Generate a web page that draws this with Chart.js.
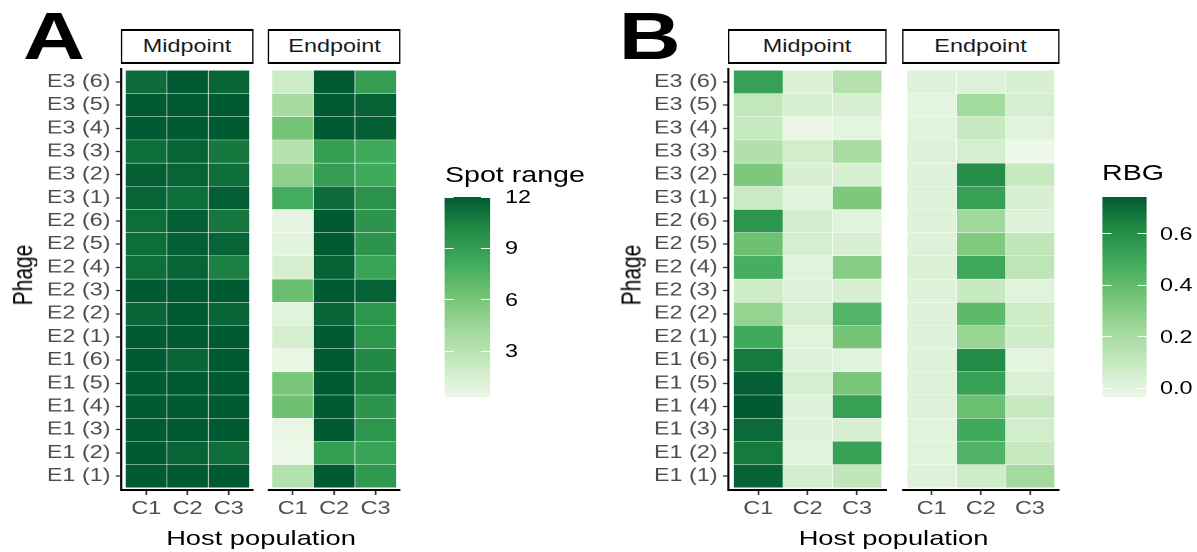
<!DOCTYPE html>
<html>
<head>
<meta charset="utf-8">
<script src="https://cdn.jsdelivr.net/npm/chart.js@4.4.1/dist/chart.umd.min.js"></script>
<style>
  html, body { margin: 0; padding: 0; background: #fff; }
  body { width: 1197px; height: 552px; overflow: hidden; }
  /* the figure is a bit wider than tall glyphs suggest, so stretch the whole stage */
  #stage { position: relative; width: 920.77px; height: 552px; transform: scaleX(1.3); transform-origin: 0 0;
           font-family: "Liberation Sans", Arial, Helvetica, sans-serif; }
  #stage canvas { position: absolute; }
  .txt { position: absolute; white-space: nowrap; line-height: 1; }
  .strip { position: absolute; box-sizing: border-box; border: 2px solid #000; border-left-width: 1.5px; border-right-width: 1.5px;
           display: flex; align-items: center; justify-content: center; font-size: 18px; color: #1a1a1a; background: #fff; }
  .cbar { position: absolute; background: linear-gradient(to top, #edf8e9, #c7e9c0, #a1d99b, #74c476, #41ab5d, #238b45, #005a32); }
  .ctick { position: absolute; height: 1px; background: #fff; }
</style>
</head>
<body>
<div id="stage"></div>
<script>
const phages = ['E1 (1)', 'E1 (2)', 'E1 (3)', 'E1 (4)', 'E1 (5)', 'E1 (6)',
                'E2 (1)', 'E2 (2)', 'E2 (3)', 'E2 (4)', 'E2 (5)', 'E2 (6)',
                'E3 (1)', 'E3 (2)', 'E3 (3)', 'E3 (4)', 'E3 (5)', 'E3 (6)'];
const hosts = ['C1', 'C2', 'C3'];

// Panel A - spot range (same phage order as above)
const spotMidC1 = [12, 12, 12, 12, 12, 12, 12, 11.5, 12, 11.2, 11.2, 11.2, 11.6, 11.8, 11.2, 12, 12, 11.3];
const spotMidC2 = [12, 11.6, 12, 12, 12, 11.5, 12, 12, 12, 11.6, 11.8, 11.8, 11.2, 11.6, 11.6, 12, 12, 12];
const spotMidC3 = [12, 11.2, 12, 12, 12, 12, 12, 11.5, 12, 10.5, 11.6, 10.8, 11.8, 11.2, 10.8, 12, 12, 11.5];
const spotEndC1 = [3.3, 0.33, 0.6, 6.4, 6.0, 0.5, 1.6, 1.0, 6.6, 1.5, 0.9, 0.7, 8.0, 5.0, 3.2, 6.2, 4.0, 2.0];
const spotEndC2 = [12, 8.9, 12, 12, 12, 12, 12, 11.5, 12, 11.7, 12, 12, 11.3, 8.9, 8.9, 12, 12, 12];
const spotEndC3 = [9.2, 8.6, 9.4, 9.5, 10.5, 10.1, 9.4, 9.4, 11.7, 8.6, 9.5, 9.5, 9.6, 8.2, 8.2, 11.8, 11.7, 8.9];

// Panel B - RBG
const rbgMidC1 = [0.72, 0.66, 0.7, 0.743, 0.73, 0.66, 0.49, 0.26, 0.07, 0.47, 0.37, 0.57, 0.09, 0.33, 0.17, 0.1, 0.11, 0.53];
const rbgMidC2 = [0.06, 0.01, 0.02, 0.02, 0.05, 0.02, 0.01, 0.05, 0.02, 0.01, 0.05, 0.06, 0.01, 0.04, 0.06, -0.02, 0.04, 0.03];
const rbgMidC3 = [0.12, 0.53, 0.04, 0.53, 0.34, 0.01, 0.35, 0.44, 0.04, 0.3, 0.04, 0.01, 0.33, 0.04, 0.2, 0.0, 0.04, 0.16];
const rbgEndC1 = [0.02, 0.01, 0.01, 0.02, 0.02, 0.02, 0.02, 0.02, 0.02, 0.03, 0.02, 0.02, 0.02, 0.02, 0.02, 0.01, 0.0, 0.02];
const rbgEndC2 = [0.07, 0.45, 0.49, 0.38, 0.53, 0.61, 0.25, 0.41, 0.1, 0.5, 0.32, 0.23, 0.53, 0.6, 0.05, 0.1, 0.22, 0.02];
const rbgEndC3 = [0.22, 0.1, 0.06, 0.1, 0.03, 0.0, 0.07, 0.07, 0.01, 0.13, 0.12, 0.02, 0.04, 0.1, -0.033, 0.01, 0.05, 0.04];

const spotTicks = [3, 6, 9, 12];
const rbgTicks = [0, 0.2, 0.4, 0.6];

const greens = ['#edf8e9', '#c7e9c0', '#a1d99b', '#74c476', '#41ab5d', '#238b45', '#005a32'];
const SX = 1.3;
const PLOT_TOP = 68, PLOT_BOTTOM = 490;
const FONT = '"Liberation Sans", Arial, Helvetica, sans-serif';
const stage = document.getElementById('stage');

const spotAll = [].concat(spotMidC1, spotMidC2, spotMidC3, spotEndC1, spotEndC2, spotEndC3);
const rbgAll = [].concat(rbgMidC1, rbgMidC2, rbgMidC3, rbgEndC1, rbgEndC2, rbgEndC3);
const spotRange = [Math.min(...spotAll), Math.max(...spotAll)];
const rbgRange = [Math.min(...rbgAll), Math.max(...rbgAll)];

function hex(c) { return [1, 3, 5].map(i => parseInt(c.substr(i, 2), 16)); }

function fillColor(v, range) {
  let t = (v - range[0]) / (range[1] - range[0]);
  t = Math.max(0, Math.min(1, t)) * (greens.length - 1);
  const i = Math.min(Math.floor(t), greens.length - 2);
  const f = t - i;
  const a = hex(greens[i]), b = hex(greens[i + 1]);
  const rgb = a.map((x, k) => Math.round(x + (b[k] - x) * f));
  return 'rgb(' + rgb.join(',') + ')';
}

function addText(text, x, y, css) {
  const d = document.createElement('div');
  d.className = 'txt';
  d.textContent = text;
  d.style.left = x + 'px';
  d.style.top = y + 'px';
  Object.assign(d.style, css || {});
  stage.appendChild(d);
  return d;
}

function drawFacet(f) {
  // f.left / f.right are in reference pixels
  const plotW = (f.right - f.left) / SX;
  const total = f.showY ? Math.ceil(80 + plotW) : Math.round(plotW);
  const yw = f.showY ? total - plotW : 0;
  const cv = document.createElement('canvas');
  cv.width = total;
  cv.height = PLOT_BOTTOM - PLOT_TOP + 30;
  cv.style.left = (f.left / SX - yw) + 'px';
  cv.style.top = PLOT_TOP + 'px';
  stage.appendChild(cv);

  // strip label above the panel
  const s = document.createElement('div');
  s.className = 'strip';
  s.textContent = f.title;
  s.style.left = (f.left / SX) + 'px';
  s.style.width = plotW + 'px';
  s.style.top = '29px';
  s.style.height = '35px';
  stage.appendChild(s);

  new Chart(cv.getContext('2d'), {
    type: 'bar',
    data: {
      datasets: hosts.map((h, c) => ({
        label: h,
        data: phages.map((p, i) => ({ y: i + 0.5, x: [c, c + 1] })),
        backgroundColor: f.values[c].map(v => fillColor(v, f.range)),
        borderColor: '#ffffff',
        borderWidth: 0.5,
        borderSkipped: false,
        barPercentage: 1,
        categoryPercentage: 1,
        grouped: false
      }))
    },
    options: {
      indexAxis: 'y',
      responsive: false,
      animation: false,
      devicePixelRatio: 2,
      layout: { padding: 0 },
      plugins: { legend: { display: false }, tooltip: { enabled: false } },
      scales: {
        x: {
          type: 'linear', min: -0.1, max: 3.1, offset: false,
          afterBuildTicks: sc => { sc.ticks = hosts.map((h, i) => ({ value: i + 0.5 })); },
          afterFit: sc => { sc.height = 30; sc.paddingLeft = 0; sc.paddingRight = 0; },
          ticks: { callback: v => hosts[Math.floor(v)], color: '#4d4d4d', font: { family: FONT, size: 18 },
                   padding: 3, maxRotation: 0, autoSkip: false },
          grid: { offset: false, drawOnChartArea: false, drawTicks: true, tickLength: 5, tickColor: '#333', tickWidth: 1.3 },
          border: { display: true, color: '#000', width: 2 }
        },
        y: {
          type: 'linear', min: -0.1, max: 18.1, offset: false, display: f.showY,
          afterBuildTicks: sc => { sc.ticks = phages.map((p, i) => ({ value: i + 0.5 })); },
          // keep the panel the full height: no room reserved for half a label
          afterFit: sc => { sc.width = yw; sc.paddingTop = 0; sc.paddingBottom = 0; },
          ticks: { callback: v => phages[Math.floor(v)], color: '#4d4d4d', font: { family: FONT, size: 18 },
                   padding: 4, autoSkip: false },
          grid: { offset: false, drawOnChartArea: false, drawTicks: true, tickLength: 4.5, tickColor: '#333', tickWidth: 1.3 },
          border: { display: true, color: '#000', width: 1.6 }
        }
      }
    }
  });
}

function drawLegend(title, barLeftRef, labelLeftRef, titleY, ticks, range, digits) {
  const top = 197, bottom = 397, w = 34.6;
  const left = barLeftRef / SX;
  addText(title, left, titleY, { fontSize: '22px', color: '#000', transform: 'translateY(-50%)' });
  const bar = document.createElement('div');
  bar.className = 'cbar';
  Object.assign(bar.style, { left: left + 'px', top: top + 'px', width: w + 'px', height: (bottom - top) + 'px' });
  stage.appendChild(bar);
  ticks.forEach(v => {
    const y = bottom - (v - range[0]) / (range[1] - range[0]) * (bottom - top);
    [left, left + w * 0.8].forEach(x => {
      const t = document.createElement('div');
      t.className = 'ctick';
      Object.assign(t.style, { left: x + 'px', top: (y - 0.5) + 'px', width: (w * 0.2) + 'px' });
      stage.appendChild(t);
    });
    addText(v.toFixed(digits), labelLeftRef / SX, y, { fontSize: '18px', color: '#000', transform: 'translateY(-50%)' });
  });
}

// panel A
drawFacet({ title: 'Midpoint', left: 121, right: 253, showY: true, range: spotRange, values: [spotMidC1, spotMidC2, spotMidC3] });
drawFacet({ title: 'Endpoint', left: 268, right: 401, showY: false, range: spotRange, values: [spotEndC1, spotEndC2, spotEndC3] });
// panel B
drawFacet({ title: 'Midpoint', left: 728, right: 886, showY: true, range: rbgRange, values: [rbgMidC1, rbgMidC2, rbgMidC3] });
drawFacet({ title: 'Endpoint', left: 902, right: 1059, showY: false, range: rbgRange, values: [rbgEndC1, rbgEndC2, rbgEndC3] });

drawLegend('Spot range', 445, 505, 175, spotTicks, spotRange, 0);
drawLegend('RBG', 1102, 1160, 173, rbgTicks, rbgRange, 1);

// axis titles
const titleY = 275;
addText('Phage', 22 / SX, titleY, { fontSize: '21px', color: '#000', transform: 'translate(-50%,-50%) rotate(-90deg)' });
addText('Phage', 630 / SX, titleY, { fontSize: '21px', color: '#000', transform: 'translate(-50%,-50%) rotate(-90deg)' });
addText('Host population', (121 + 401) / 2 / SX, 537, { fontSize: '21px', color: '#000', transform: 'translate(-50%,-50%)' });
addText('Host population', (728 + 1059) / 2 / SX, 537, { fontSize: '21px', color: '#000', transform: 'translate(-50%,-50%)' });

// panel letters
addText('A', 23 / SX, 2.5, { fontSize: '66px', fontWeight: 'bold', color: '#000' });
addText('B', 625 / SX - 4.8, 2.5, { fontSize: '66px', fontWeight: 'bold', color: '#000' });
</script>
</body>
</html>
